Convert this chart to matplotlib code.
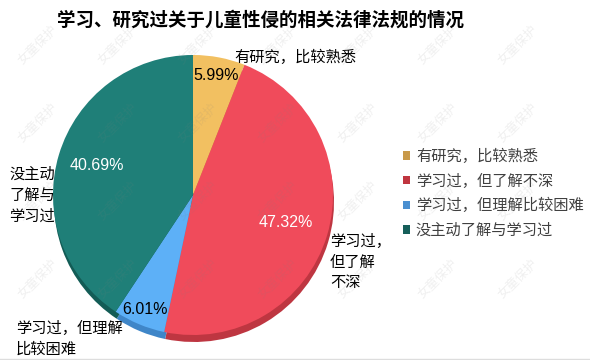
import numpy as np
import matplotlib.pyplot as plt
from matplotlib.patches import Patch

plt.rcParams['font.family'] = ['Noto Sans CJK SC', 'DejaVu Sans']

# data
title = '学习、研究过关于儿童性侵的相关法律法规的情况'
categories = ['有研究，比较熟悉', '学习过，但了解不深', '学习过，但理解比较困难', '没主动了解与学习过']
values = [5.99, 47.32, 6.01, 40.69]
outer_labels = ['有研究，比较熟悉', '学习过，\n但了解\n不深', '学习过，但理解\n比较困难', '没主动\n了解与\n学习过']

colors = ['#F2C061', '#F04B5B', '#5DB0F7', '#1F7F78']
shadow_colors = ['#C4963F', '#BE3641', '#3F86C8', '#135C56']
legend_colors = ['#C8994A', '#C0353F', '#4A8FD0', '#165F5A']
pct_colors = ['black', 'white', 'black', 'white']
pct_dist = [0.87, 0.69, 0.89, 0.72]

W, H = 590, 360
fig = plt.figure(figsize=(W / 100, H / 100), dpi=100)
ax = fig.add_axes([0, 0, 1, 1])

cx, cy, R = 193, H - 195, 140
explode = [0.013] * 4

# shadow layer
ax.pie(values, center=(cx + 1, cy - 7), radius=R, startangle=90, counterclock=False,
       colors=shadow_colors, explode=explode, wedgeprops=dict(linewidth=0))
wedges, _ = ax.pie(values, center=(cx, cy), radius=R, startangle=90, counterclock=False,
                   colors=colors, explode=explode, wedgeprops=dict(linewidth=0))

for w, v, d, c in zip(wedges, values, pct_dist, pct_colors):
    a = np.radians((w.theta1 + w.theta2) / 2)
    ax.text(cx + d * R * np.cos(a), cy + d * R * np.sin(a), f'{v:.2f}%',
            ha='center', va='center', fontsize=11.5, color=c, family='Liberation Sans')

# outer labels
lab_pos = [(234, 57), (330, 262), (16, 339), (9, 195)]
for (x, y), t in zip(lab_pos, outer_labels):
    ax.text(x, H - y, t, ha='left', va='center', fontsize=11, color='black', linespacing=1.3)

ax.text(261, H - 20, title, ha='center', va='center', fontsize=13.3, fontweight='bold', color='black')

handles = [Patch(facecolor=c, edgecolor='none') for c in legend_colors]
leg = ax.legend(handles, categories, loc='upper left', bbox_to_anchor=(403 / W, 1 - 148 / H),
                frameon=False, fontsize=11, handlelength=0.45, handleheight=0.45,
                handletextpad=0.4, labelspacing=0.5, borderaxespad=0, borderpad=0)
for t in leg.get_texts():
    t.set_color('#404040')

# watermark
for wx in np.arange(38, W - 20, 80):
    for wy in np.arange(45, H - 40, 78):
        ax.text(wx, H - wy, '女童保护', rotation=45, ha='center', va='center',
                fontsize=9, color='gray', alpha=0.12, zorder=10)

ax.plot([0, W], [1.5, 1.5], color='#DDDDDD', linewidth=1)

ax.set_xlim(0, W)
ax.set_ylim(0, H)
ax.set_aspect('equal')
ax.axis('off')

fig.savefig('out.png', dpi=100)
